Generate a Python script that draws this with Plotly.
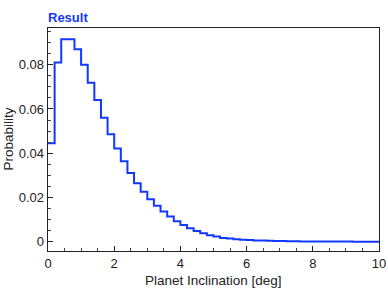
import plotly.graph_objects as go

bin_width = 0.2
bin_starts = [round(i * bin_width, 1) for i in range(50)]
probability = [
    0.0445, 0.0810, 0.0915, 0.0915, 0.0870, 0.0800, 0.0718, 0.0640, 0.0560, 0.0486,
    0.0421, 0.0364, 0.0311, 0.0264, 0.0226, 0.0192, 0.0162, 0.0136, 0.0114, 0.0092,
    0.0076, 0.0061, 0.0048, 0.0038, 0.0029, 0.0023, 0.0017, 0.0014, 0.0011, 0.0009,
    0.00075, 0.0006, 0.0005, 0.0004, 0.00033, 0.00027, 0.00022, 0.00018, 0.00015, 0.00012,
    0.0001, 0.00008, 0.00007, 0.00006, 0.00005, 0.00004, 0.00003, 0.00003, 0.00002, 0.00002,
]
x_ticks = [0, 2, 4, 6, 8, 10]
y_ticks = [0, 0.02, 0.04, 0.06, 0.08]
y_tick_labels = ["0", "0.02", "0.04", "0.06", "0.08"]

xs = bin_starts + [bin_starts[-1] + bin_width]
ys = probability + [probability[-1]]

blue = "#1238ff"
ink = "#222"
font = "Liberation Sans, Arial, Helvetica, sans-serif"

W, H = 388, 297
L, R, T, B = 48, 9, 28, 46

fig = go.Figure()
fig.add_trace(go.Scatter(
    x=xs, y=ys, mode="lines", line=dict(shape="hv", color=blue, width=2),
    showlegend=False, hoverinfo="skip",
))

axis_common = dict(
    showline=True, linecolor=ink, linewidth=1.3, mirror=True,
    ticks="inside", ticklen=5, tickwidth=1, tickcolor=ink,
    showgrid=False, zeroline=False, automargin=False,
    tickfont=dict(family=font, size=13, color=ink),
)

fig.update_xaxes(
    range=[0, 10], tickvals=x_ticks,
    minor=dict(dtick=0.5, ticks="inside", ticklen=3, tickcolor="#444", showgrid=False),
    **axis_common,
)
fig.update_yaxes(
    range=[-0.0042, 0.0966], tickvals=y_ticks, ticktext=y_tick_labels,
    minor=dict(dtick=0.005, ticks="inside", ticklen=3, tickcolor="#444", showgrid=False),
    **axis_common,
)

fig.add_annotation(
    text="Planet Inclination [deg]", xref="paper", yref="paper",
    x=0.5, y=0, yshift=-29, xanchor="center", yanchor="middle", showarrow=False,
    font=dict(family=font, size=13.5, color=ink),
)
fig.add_annotation(
    text="Probability", xref="paper", yref="paper", textangle=-90,
    x=0, y=0.5, xshift=-(L - 8), xanchor="center", yanchor="middle", showarrow=False,
    font=dict(family=font, size=13.5, color=ink),
)

fig.update_layout(
    width=W, height=H,
    margin=dict(l=L, r=R, t=T, b=B),
    paper_bgcolor="white", plot_bgcolor="white",
    title=dict(text="<b>Result</b>", font=dict(family=font, size=13, color=blue),
               x=L / W, xanchor="left", y=1 - 17 / H, yanchor="middle"),
)

fig.write_html(
    "out.html",
    config={"displayModeBar": False, "staticPlot": True},
    post_script="document.body.style.margin='0';document.body.style.overflow='hidden';",
)
